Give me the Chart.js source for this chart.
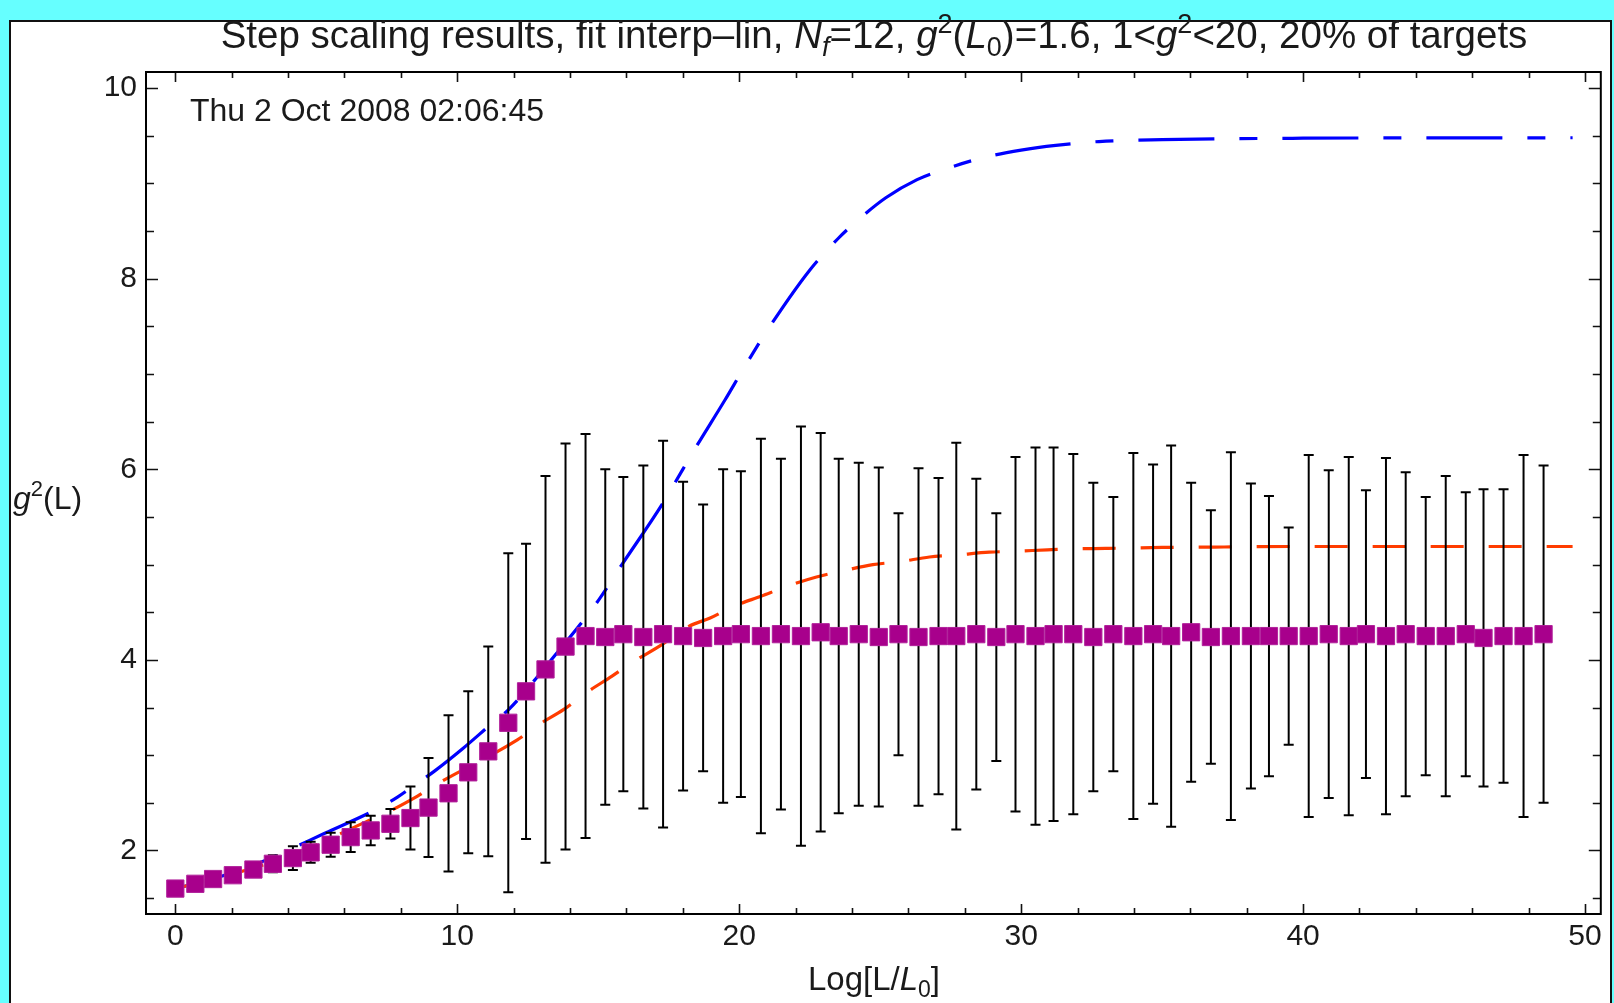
<!DOCTYPE html>
<html>
<head>
<meta charset="utf-8">
<script src="https://cdn.jsdelivr.net/npm/chart.js@4.4.0/dist/chart.umd.min.js"></script>
<style>
  html, body { margin: 0; padding: 0; background: #66ffff; }
  canvas { display: block; }
</style>
</head>
<body>
<canvas id="chart" width="1614" height="1003"></canvas>
<script>
// step scaling points
const stepX = [0, 0.71, 1.34, 2.04, 2.77, 3.46, 4.17, 4.80, 5.51, 6.22,
    6.93, 7.63, 8.34, 8.98, 9.69, 10.39, 11.10, 11.81, 12.44, 13.13,
    13.84, 14.55, 15.25, 15.89, 16.60, 17.30, 18.01, 18.72, 19.43, 20.06,
    20.77, 21.48, 22.19, 22.89, 23.53, 24.24, 24.95, 25.65, 26.36, 27.07,
    27.70, 28.41, 29.12, 29.80, 30.51, 31.15, 31.85, 32.56, 33.27, 33.98,
    34.68, 35.32, 36.03, 36.73, 37.44, 38.15, 38.79, 39.49, 40.20, 40.91,
    41.62, 42.23, 42.94, 43.64, 44.35, 45.06, 45.77, 46.40, 47.11, 47.82, 48.53]
const stepG2 = [1.60, 1.65, 1.70, 1.74, 1.80, 1.86, 1.92, 1.98, 2.06, 2.14,
    2.21, 2.28, 2.34, 2.45, 2.60, 2.82, 3.04, 3.34, 3.67, 3.90,
    4.14, 4.25, 4.24, 4.27, 4.24, 4.27, 4.25, 4.23, 4.25, 4.27,
    4.25, 4.27, 4.25, 4.29, 4.25, 4.27, 4.24, 4.27, 4.24, 4.25,
    4.25, 4.27, 4.24, 4.27, 4.25, 4.27, 4.27, 4.24, 4.27, 4.25,
    4.27, 4.25, 4.29, 4.24, 4.25, 4.25, 4.25, 4.25, 4.25, 4.27,
    4.25, 4.27, 4.25, 4.27, 4.25, 4.25, 4.27, 4.23, 4.25, 4.25, 4.27]
const stepErr = [0.02, 0.03, 0.04, 0.05, 0.07, 0.09, 0.125, 0.11, 0.125, 0.155,
    0.155, 0.155, 0.33, 0.52, 0.82, 0.85, 1.10, 1.78, 1.55, 2.03,
    2.13, 2.12, 1.76, 1.65, 1.80, 2.03, 1.62, 1.40, 1.75, 1.71,
    2.07, 1.84, 2.20, 2.09, 1.86, 1.80, 1.78, 1.27, 1.77, 1.66,
    2.03, 1.63, 1.30, 1.86, 1.98, 1.96, 1.89, 1.62, 1.44, 1.92,
    1.78, 2.00, 1.57, 1.33, 1.93, 1.60, 1.47, 1.14, 1.90, 1.72,
    1.88, 1.51, 1.87, 1.70, 1.46, 1.68, 1.49, 1.56, 1.54, 1.90, 1.77]

// the two fit curves
const fitBlueX = [0, 1.3, 2.64, 3.46, 5.3, 7.12, 7.88, 8.41, 9.18, 10.2,
    11.18, 11.83, 13.25, 14.49, 15.02, 15.84, 17.26, 18.0, 18.44, 19.5,
    20.2, 21.0, 22.5, 23.5, 24.15, 25.2, 26.31, 27.2, 28.64, 30.0,
    31.23, 32.76, 35.0, 40.0, 49.56]
const fitBlueY = [1.60, 1.70, 1.83, 1.93, 2.18, 2.43, 2.56, 2.67, 2.83, 3.07,
    3.32, 3.48, 3.97, 4.42, 4.63, 5.00, 5.63, 6.00, 6.22, 6.73,
    7.08, 7.46, 8.09, 8.42, 8.60, 8.85, 9.04, 9.14, 9.27, 9.35,
    9.40, 9.44, 9.46, 9.475, 9.48]
const fitRedX = [0, 2.0, 4.17, 6.76, 7.59, 8.59, 9.36, 12.13, 12.89, 13.78,
    14.55, 15.49, 16.19, 17.26, 18.2, 18.97, 19.79, 20.79, 21.68, 22.74,
    23.62, 24.74, 25.69, 26.75, 27.69, 28.87, 29.81, 30.93, 31.82, 33.0,
    35.0, 37.2, 40.0, 49.56]
const fitRedY = [1.60, 1.75, 1.955, 2.30, 2.41, 2.57, 2.71, 3.16, 3.32, 3.48,
    3.65, 3.83, 3.97, 4.16, 4.35, 4.44, 4.56, 4.67, 4.77, 4.87,
    4.93, 5.00, 5.03, 5.08, 5.10, 5.13, 5.14, 5.155, 5.165, 5.17,
    5.18, 5.185, 5.19, 5.19]

const xMajorTicks = [0, 10, 20, 30, 40, 50]
const xMinorTicks = [2, 4, 6, 8, 12, 14, 16, 18, 22, 24, 26, 28, 32, 34, 36, 38, 42, 44, 46, 48]
const yMajorTicks = [2, 4, 6, 8, 10]
const yMinorTicks = [1.5, 2.5, 3, 3.5, 4.5, 5, 5.5, 6.5, 7, 7.5, 8.5, 9, 9.5]
const stamp = 'Thu 2 Oct 2008 02:06:45'

const FONT = '"Liberation Sans", Arial, Helvetica, sans-serif'
const pts = (xs, ys) => xs.map((x, i) => ({ x: x, y: ys[i] }))

// error bars: a vertical segment per point, broken by a null
const barData = []
stepX.forEach((x, i) => {
    barData.push({ x: x, y: stepG2[i] - stepErr[i] })
    barData.push({ x: x, y: stepG2[i] + stepErr[i] })
    barData.push({ x: x, y: null })
})
const capData = []
stepX.forEach((x, i) => {
    capData.push({ x: x, y: stepG2[i] - stepErr[i] })
    capData.push({ x: x, y: stepG2[i] + stepErr[i] })
})

// draw a run of text with italics / sub / superscripts
const drawRich = (ctx, parts, x, y, size, align) => {
    const fontOf = p => (p.i ? 'italic ' : '') + (p.s ? Math.round(size * 0.7) : size) + 'px ' + FONT
    let w = 0
    parts.forEach(p => { ctx.font = fontOf(p); w += ctx.measureText(p.t).width })
    let cx = align === 'center' ? x - w / 2 : x
    parts.forEach(p => {
        ctx.font = fontOf(p)
        const dy = p.s === 'sup' ? -size * 0.4 : p.s === 'sub' ? size * 0.22 : 0
        ctx.fillText(p.t, cx, y + dy)
        cx += ctx.measureText(p.t).width
    })
}

const backdrop = {
    id: 'backdrop',
    beforeDraw(chart) {
        const ctx = chart.ctx
        ctx.save()
        ctx.fillStyle = '#66ffff'
        ctx.fillRect(0, 0, chart.width, chart.height)
        ctx.fillStyle = '#ffffff'
        ctx.fillRect(10, 21, 1601, 990)
        ctx.strokeStyle = '#111'
        ctx.lineWidth = 2
        ctx.strokeRect(10, 21, 1601, 990)
        ctx.restore()
    }
}

const frame = {
    id: 'frame',
    afterDraw(chart) {
        const { ctx, chartArea: a } = chart
        const sx = chart.scales.x
        const sy = chart.scales.y
        ctx.save()
        ctx.strokeStyle = '#111'
        ctx.lineWidth = 1.6
        ctx.beginPath()
        const xTick = (v, len) => {
            const px = Math.round(sx.getPixelForValue(v)) + 0.5
            ctx.moveTo(px, a.bottom); ctx.lineTo(px, a.bottom - len)
            ctx.moveTo(px, a.top); ctx.lineTo(px, a.top + len)
        }
        const yTick = (v, len) => {
            const py = Math.round(sy.getPixelForValue(v)) + 0.5
            ctx.moveTo(a.left, py); ctx.lineTo(a.left + len, py)
            ctx.moveTo(a.right, py); ctx.lineTo(a.right - len, py)
        }
        xMajorTicks.forEach(v => xTick(v, 10))
        xMinorTicks.forEach(v => xTick(v, 6))
        yMajorTicks.forEach(v => yTick(v, 12))
        yMinorTicks.forEach(v => yTick(v, 8))
        ctx.stroke()
        ctx.lineWidth = 2
        ctx.strokeStyle = '#000'
        ctx.strokeRect(a.left, a.top, a.right - a.left, a.bottom - a.top)

        ctx.fillStyle = '#1a1a1a'
        ctx.textBaseline = 'alphabetic'
        ctx.textAlign = 'left'
        drawRich(ctx, [
            { t: 'Step scaling results, fit interp\u2013lin, ' },
            { t: 'N', i: 1 }, { t: 'f', i: 1, s: 'sub' },
            { t: '=12, ' },
            { t: 'g', i: 1 }, { t: '2', s: 'sup' },
            { t: '(' }, { t: 'L', i: 1 }, { t: '0', s: 'sub' },
            { t: ')=1.6, 1<' },
            { t: 'g', i: 1 }, { t: '2', s: 'sup' },
            { t: '<20, 20% of targets' }
        ], 874, 48, 38.5, 'center')

        ctx.font = '32px ' + FONT
        ctx.fillText(stamp, 190, 121)

        drawRich(ctx, [
            { t: 'g', i: 1 }, { t: '2', s: 'sup' }, { t: '(L)' }
        ], 13, 509, 32, 'left')

        drawRich(ctx, [
            { t: 'Log[L/' }, { t: 'L', i: 1 }, { t: '0', s: 'sub' }, { t: ']' }
        ], 874, 990, 33, 'center')
        ctx.restore()
    }
}

new Chart(document.getElementById('chart'), {
    type: 'scatter',
    data: {
        datasets: [
            {
                data: pts(fitBlueX, fitBlueY),
                showLine: true,
                borderColor: '#0000ff',
                borderWidth: 3.2,
                borderDash: [76, 25, 18, 25],
                borderDashOffset: 12,
                pointRadius: 0,
                cubicInterpolationMode: 'monotone',
                order: 5
            },
            {
                data: pts(fitRedX, fitRedY),
                showLine: true,
                borderColor: '#ff3c00',
                borderWidth: 3.2,
                borderDash: [33, 25],
                pointRadius: 0,
                cubicInterpolationMode: 'monotone',
                order: 4
            },
            {
                data: barData,
                showLine: true,
                spanGaps: false,
                borderColor: '#000',
                borderWidth: 2,
                pointRadius: 0,
                order: 3
            },
            {
                data: capData,
                pointStyle: 'line',
                pointRadius: 5,
                borderColor: '#000',
                borderWidth: 2,
                order: 2
            },
            {
                data: pts(stepX, stepG2),
                pointStyle: 'rect',
                pointRadius: 12.2,
                backgroundColor: '#a8008c',
                borderColor: '#b0209a',
                borderWidth: 1,
                order: 1
            }
        ]
    },
    options: {
        responsive: false,
        animation: false,
        devicePixelRatio: 1,
        layout: { padding: { left: 0, right: 9, top: 72, bottom: 0 } },
        plugins: { legend: { display: false }, tooltip: { enabled: false } },
        scales: {
            x: {
                type: 'linear',
                min: -1.04,
                max: 50.56,
                grid: { display: false },
                border: { display: false },
                afterBuildTicks: s => { s.ticks = xMajorTicks.map(v => ({ value: v })) },
                afterFit: s => { s.height = 89 },
                ticks: { color: '#1a1a1a', padding: -3, maxRotation: 0, font: { family: FONT, size: 30 } }
            },
            y: {
                type: 'linear',
                min: 1.333,
                max: 10.17,
                grid: { display: false },
                border: { display: false },
                afterBuildTicks: s => { s.ticks = yMajorTicks.map(v => ({ value: v })) },
                afterFit: s => { s.width = 146 },
                ticks: { color: '#1a1a1a', padding: 1, font: { family: FONT, size: 30 } }
            }
        }
    },
    plugins: [backdrop, frame]
})
</script>
</body>
</html>
